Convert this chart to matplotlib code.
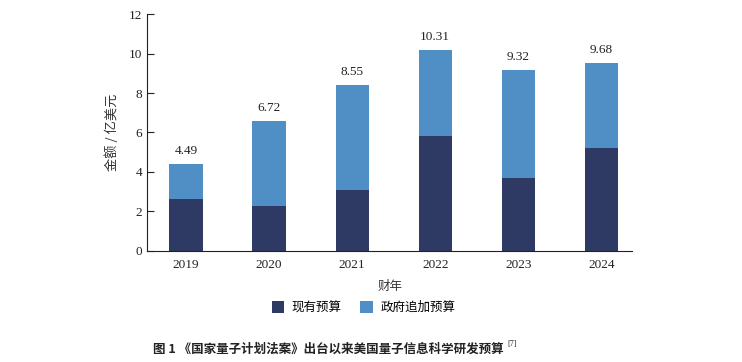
import matplotlib.pyplot as plt
import matplotlib as mpl

mpl.rcParams["font.family"] = ["Liberation Serif", "Noto Sans CJK SC", "DejaVu Sans"]

CJK = ["Noto Sans CJK SC", "DejaVu Sans"]

years = ["2019", "2020", "2021", "2022", "2023", "2024"]
existing = [2.65, 2.28, 3.09, 5.82, 3.71, 5.23]
added = [1.74, 4.30, 5.33, 4.36, 5.45, 4.30]
total_labels = ["4.49", "6.72", "8.55", "10.31", "9.32", "9.68"]

DARK = "#2e3a63"
BLUE = "#4f8fc6"

fig = plt.figure(figsize=(7.42, 3.62), dpi=100)
ax = fig.add_axes([0.198, 0.307, 0.654, 0.654])

x = range(len(years))
ax.bar(x, existing, width=0.4, color=DARK, label="现有预算")
bars = ax.bar(x, added, width=0.4, bottom=existing, color=BLUE, label="政府追加预算")

for rect, lab in zip(bars, total_labels):
    top = rect.get_y() + rect.get_height()
    ax.annotate(lab, xy=(rect.get_x() + rect.get_width() / 2, top),
                xytext=(0, 5), textcoords="offset points",
                ha="center", va="bottom", fontsize=9.5, color="#222222")

ax.set_xlim(-0.47, 5.37)
ax.set_ylim(0, 12)
ax.set_yticks([0, 2, 4, 6, 8, 10, 12])
ax.set_xticks(list(x))
ax.set_xticklabels(years)
ax.tick_params(axis="y", direction="in", length=5, labelsize=9.5, colors="#222222")
ax.tick_params(axis="x", length=0, labelsize=9.5, colors="#222222", pad=6)
for side in ("top", "right"):
    ax.spines[side].set_visible(False)
ax.spines["left"].set_color("#222222")
ax.spines["bottom"].set_color("#222222")

ax.set_ylabel("金额 / 亿美元", family=CJK, fontsize=9.5, color="#333333", labelpad=7)
ax.set_xlabel("财年", family=CJK, fontsize=9, color="#333333", labelpad=6)

fig.legend(loc="center", bbox_to_anchor=(0.49, 0.15), ncol=2, frameon=False,
           prop={"family": CJK, "size": 9}, handlelength=1.0, handleheight=1.0,
           handletextpad=0.6, columnspacing=1.5)

cap = fig.text(0.206, 0.035, "图 1 《国家量子计划法案》出台以来美国量子信息科学研发预算",
               family=CJK, fontsize=9, weight="bold", color="#222222",
               ha="left", va="center")
plt.annotate("[7]", xy=(1, 0.6), xycoords=cap, xytext=(3, 0),
             textcoords="offset points", fontsize=6, va="bottom", color="#222222")

fig.savefig("out.png", dpi=100)
